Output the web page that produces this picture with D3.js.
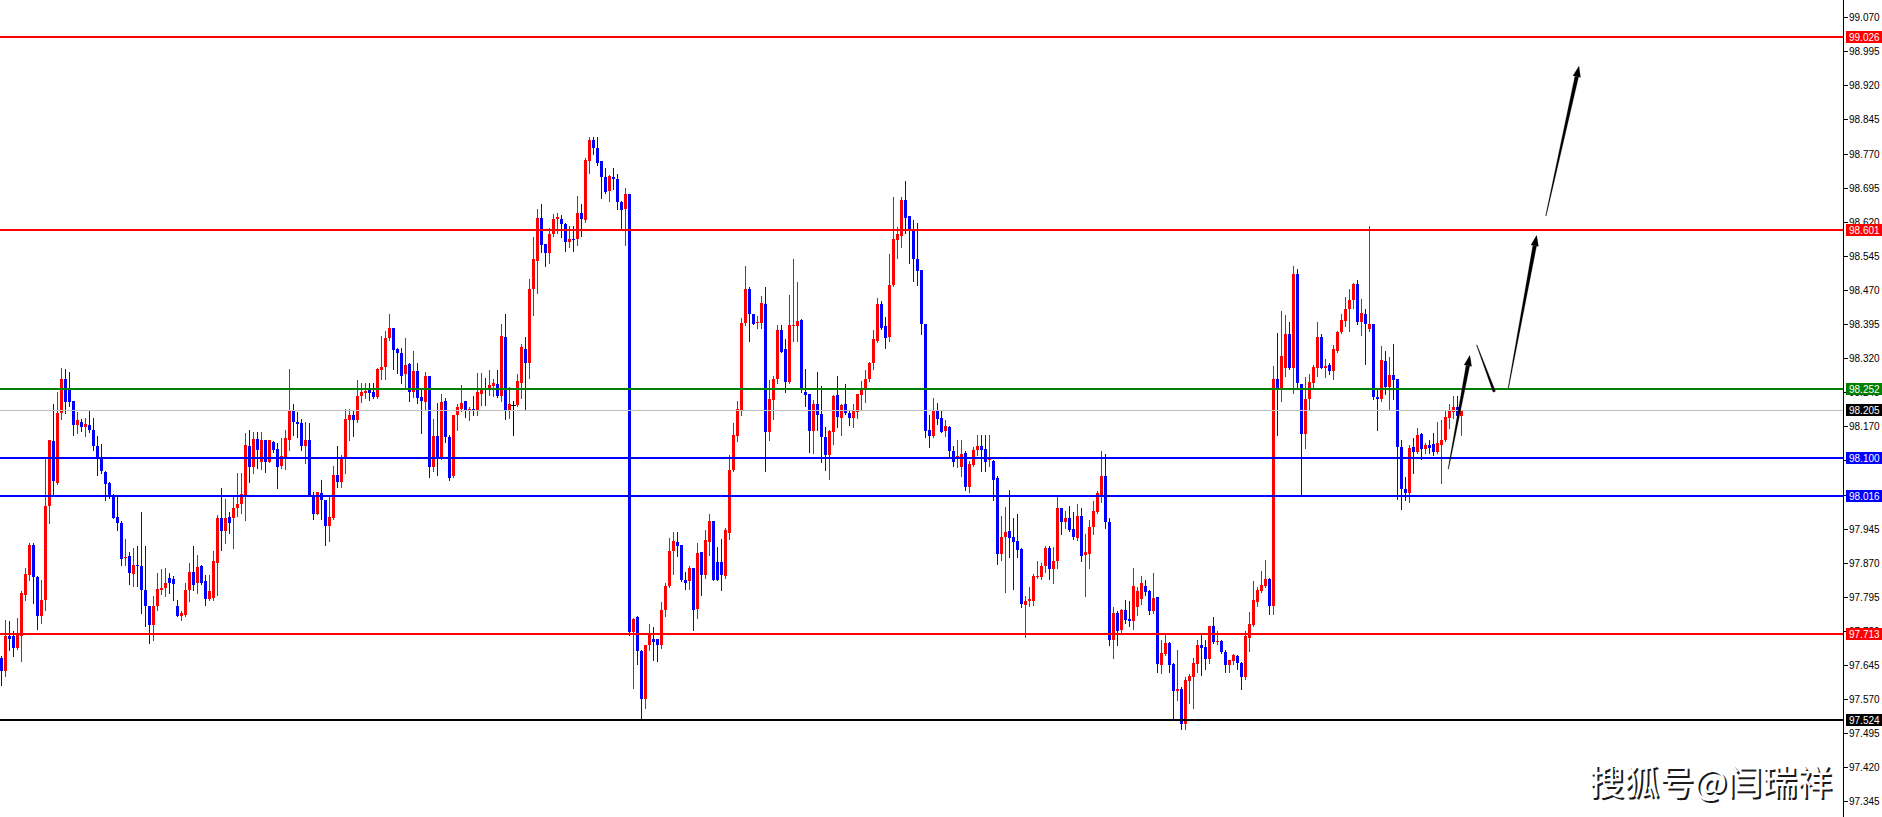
<!DOCTYPE html>
<html>
<head>
<meta charset="utf-8">
<script src="https://cdn.jsdelivr.net/npm/d3@7"></script>
<style>
  html, body { margin: 0; padding: 0; background: #ffffff; overflow: hidden; }
  svg { display: block; }
</style>
</head>
<body>
<script>
// ---------- DATA ----------
const open = [
97.660,97.631,97.708,97.708,97.682,97.709,97.799,97.843,97.909,97.838,
97.753,97.787,97.995,98.138,98.046,98.200,98.274,98.250,98.226,98.173,
98.179,98.169,98.173,98.162,98.127,98.100,98.070,98.046,98.019,97.970,
97.958,97.881,97.885,97.845,97.865,97.863,97.810,97.774,97.733,97.774,
97.809,97.814,97.836,97.834,97.775,97.753,97.755,97.809,97.850,97.825,
97.862,97.829,97.790,97.792,97.870,97.968,97.940,97.970,97.968,97.991,
97.999,98.017,98.127,98.081,98.142,98.092,98.140,98.092,98.136,98.120,
98.083,98.100,98.140,98.204,98.180,98.177,98.127,98.140,98.020,97.977,
98.024,98.007,97.950,97.968,98.062,98.048,98.100,98.184,98.195,98.183,
98.237,98.243,98.250,98.246,98.235,98.293,98.300,98.364,98.386,98.340,
98.332,98.284,98.306,98.246,98.291,98.234,98.224,98.280,98.081,98.148,
98.100,98.225,98.146,98.060,98.194,98.208,98.225,98.204,98.209,98.204,
98.240,98.253,98.251,98.259,98.263,98.236,98.366,98.207,98.217,98.217,
98.266,98.341,98.309,98.471,98.534,98.629,98.570,98.551,98.592,98.625,
98.627,98.614,98.575,98.583,98.581,98.639,98.623,98.753,98.799,98.782,
98.753,98.719,98.687,98.719,98.713,98.663,98.648,98.681,97.717,97.751,
97.675,97.571,97.690,97.703,97.703,97.690,97.767,97.819,97.896,97.915,
97.909,97.833,97.829,97.858,97.768,97.893,97.843,97.915,97.961,97.871,
97.872,97.841,97.936,98.074,98.148,98.207,98.397,98.471,98.418,98.398,
98.398,98.440,98.158,98.228,98.274,98.382,98.339,98.267,98.390,98.390,
98.403,98.246,98.242,98.160,98.218,98.198,98.147,98.108,98.158,98.238,
98.189,98.218,98.200,98.188,98.202,98.238,98.253,98.273,98.309,98.358,
98.440,98.390,98.366,98.480,98.579,98.588,98.668,98.632,98.603,98.539,
98.513,98.394,98.161,98.148,98.207,98.189,98.160,98.169,98.116,98.099,
98.080,98.111,98.037,98.086,98.118,98.126,98.120,98.096,98.094,98.056,
97.889,97.926,97.939,97.926,97.918,97.900,97.778,97.785,97.785,97.839,
97.838,97.862,97.902,97.856,97.873,97.990,97.960,97.968,97.944,97.924,
97.972,97.888,97.890,97.949,97.981,98.019,98.061,97.960,97.699,97.759,
97.723,97.766,97.746,97.742,97.772,97.790,97.818,97.808,97.764,97.795,
97.644,97.670,97.694,97.648,97.588,97.593,97.515,97.609,97.619,97.648,
97.688,97.685,97.658,97.730,97.695,97.697,97.674,97.644,97.654,97.664,
97.650,97.619,97.705,97.732,97.784,97.808,97.819,97.835,97.774,98.273,
98.250,98.299,98.372,98.299,98.505,98.264,98.154,98.229,98.266,98.299,
98.366,98.299,98.304,98.291,98.335,98.377,98.401,98.429,98.447,98.482,
98.399,98.418,98.383,98.394,98.235,98.229,98.313,98.256,98.282,98.275,
98.125,98.033,98.024,98.125,98.114,98.154,98.121,98.129,98.132,98.114,
98.130,98.141,98.189,98.202,98.213,98.192
];
const high = [
97.665,97.744,97.742,97.719,97.748,97.807,97.859,97.914,97.913,97.840,
97.832,98.098,98.140,98.219,98.246,98.298,98.296,98.290,98.226,98.202,
98.187,98.188,98.205,98.188,98.149,98.131,98.072,98.048,98.021,98.019,
97.961,97.922,97.894,97.903,97.906,97.982,97.907,97.774,97.796,97.847,
97.856,97.858,97.847,97.840,97.787,97.763,97.825,97.869,97.907,97.886,
97.866,97.843,97.843,97.896,97.975,98.035,98.010,97.982,98.015,98.067,
98.067,98.156,98.161,98.158,98.158,98.158,98.140,98.140,98.137,98.133,
98.144,98.162,98.296,98.219,98.202,98.186,98.180,98.178,98.026,98.025,
98.052,98.008,98.015,98.083,98.127,98.107,98.209,98.209,98.204,98.272,
98.266,98.266,98.265,98.266,98.299,98.369,98.380,98.417,98.386,98.342,
98.342,98.364,98.310,98.335,98.309,98.249,98.289,98.280,98.187,98.221,
98.240,98.232,98.151,98.194,98.219,98.261,98.225,98.213,98.236,98.288,
98.287,98.276,98.293,98.274,98.293,98.394,98.417,98.257,98.225,98.285,
98.352,98.366,98.495,98.587,98.649,98.660,98.572,98.607,98.637,98.639,
98.635,98.618,98.610,98.610,98.677,98.660,98.761,98.807,98.807,98.807,
98.753,98.738,98.723,98.738,98.726,98.665,98.694,98.681,97.749,97.753,
97.678,97.690,97.736,97.728,97.703,97.784,97.825,97.925,97.938,97.938,
97.909,97.850,97.862,97.858,97.913,97.893,97.942,97.977,97.961,97.904,
97.923,97.946,98.108,98.177,98.225,98.408,98.523,98.476,98.418,98.413,
98.456,98.477,98.271,98.280,98.393,98.392,98.362,98.459,98.537,98.487,
98.407,98.297,98.242,98.227,98.290,98.258,98.169,98.161,98.238,98.280,
98.220,98.264,98.204,98.220,98.242,98.270,98.293,98.312,98.381,98.452,
98.445,98.410,98.548,98.674,98.608,98.674,98.709,98.632,98.623,98.617,
98.513,98.394,98.196,98.233,98.221,98.207,98.183,98.170,98.126,98.139,
98.139,98.115,98.094,98.124,98.150,98.150,98.150,98.150,98.096,98.060,
97.972,97.992,98.030,97.968,97.977,97.902,97.797,97.817,97.845,97.874,
97.869,97.906,97.906,97.905,98.016,97.990,97.984,97.995,97.981,97.999,
97.990,97.933,97.964,98.006,98.028,98.116,98.109,97.968,97.772,97.764,
97.768,97.788,97.785,97.858,97.816,97.840,97.833,97.809,97.847,97.795,
97.699,97.710,97.696,97.650,97.677,97.597,97.619,97.625,97.661,97.701,
97.710,97.701,97.730,97.751,97.719,97.699,97.677,97.657,97.670,97.668,
97.652,97.719,97.762,97.830,97.817,97.851,97.875,97.836,98.303,98.375,
98.423,98.414,98.399,98.522,98.516,98.264,98.279,98.284,98.304,98.399,
98.374,98.317,98.310,98.348,98.379,98.416,98.454,98.472,98.486,98.492,
98.449,98.428,98.610,98.394,98.255,98.346,98.335,98.322,98.352,98.275,
98.141,98.059,98.128,98.145,98.167,98.156,98.134,98.140,98.156,98.180,
98.183,98.207,98.220,98.236,98.236,98.207
];
const low = [
97.600,97.620,97.678,97.664,97.680,97.653,97.787,97.832,97.781,97.724,
97.738,97.765,97.958,98.017,98.043,98.186,98.199,98.215,98.151,98.155,
98.160,98.149,98.158,98.117,98.062,98.067,98.008,98.012,97.968,97.942,
97.865,97.865,97.823,97.818,97.818,97.759,97.730,97.694,97.700,97.766,
97.801,97.797,97.803,97.787,97.752,97.743,97.753,97.785,97.810,97.803,
97.823,97.777,97.788,97.788,97.799,97.898,97.914,97.936,97.903,97.972,
97.979,97.963,98.048,98.068,98.078,98.076,98.070,98.092,98.114,98.035,
98.078,98.076,98.118,98.150,98.147,98.117,98.090,98.018,97.966,97.977,
97.966,97.909,97.917,97.966,98.037,98.037,98.068,98.140,98.149,98.180,
98.224,98.232,98.228,98.232,98.232,98.274,98.274,98.360,98.296,98.288,
98.266,98.256,98.225,98.235,98.222,98.155,98.209,98.059,98.072,98.064,
98.098,98.135,98.053,98.058,98.161,98.203,98.190,98.183,98.196,98.194,
98.217,98.217,98.239,98.236,98.235,98.225,98.186,98.188,98.152,98.215,
98.232,98.208,98.276,98.415,98.463,98.553,98.522,98.530,98.589,98.595,
98.587,98.555,98.564,98.555,98.568,98.589,98.620,98.728,98.770,98.744,
98.673,98.683,98.665,98.692,98.649,98.606,98.568,97.711,97.594,97.648,
97.524,97.550,97.678,97.657,97.654,97.682,97.753,97.816,97.846,97.885,
97.829,97.812,97.812,97.722,97.749,97.798,97.837,97.888,97.833,97.833,
97.810,97.836,97.923,98.072,98.138,98.194,98.392,98.358,98.396,98.387,
98.387,98.072,98.141,98.186,98.266,98.333,98.245,98.265,98.358,98.358,
98.246,98.214,98.114,98.111,98.161,98.092,98.075,98.055,98.132,98.169,
98.152,98.198,98.172,98.169,98.188,98.209,98.224,98.269,98.295,98.355,
98.385,98.342,98.357,98.478,98.540,98.564,98.595,98.529,98.490,98.480,
98.374,98.147,98.125,98.147,98.176,98.158,98.148,98.104,98.082,98.081,
98.060,98.030,98.025,98.083,98.108,98.072,98.071,98.082,98.009,97.867,
97.877,97.806,97.883,97.812,97.882,97.772,97.707,97.775,97.778,97.836,
97.834,97.850,97.834,97.825,97.858,97.933,97.946,97.940,97.922,97.920,
97.874,97.797,97.858,97.933,97.979,98.004,97.946,97.688,97.660,97.688,
97.713,97.737,97.730,97.724,97.754,97.780,97.798,97.758,97.760,97.630,
97.628,97.666,97.630,97.523,97.567,97.505,97.504,97.562,97.551,97.630,
97.622,97.637,97.650,97.694,97.691,97.672,97.630,97.630,97.648,97.637,
97.593,97.614,97.675,97.731,97.775,97.806,97.817,97.758,97.758,98.152,
98.225,98.280,98.295,98.244,98.255,98.020,98.123,98.209,98.251,98.280,
98.299,98.279,98.284,98.275,98.333,98.376,98.390,98.379,98.431,98.396,
98.370,98.308,98.379,98.231,98.162,98.225,98.240,98.207,98.229,98.011,
97.989,98.008,98.003,98.068,98.112,98.099,98.112,98.112,98.108,98.112,
98.046,98.137,98.167,98.189,98.185,98.151
];
const close = [
97.631,97.708,97.703,97.682,97.711,97.803,97.845,97.909,97.838,97.752,
97.788,97.995,98.140,98.050,98.200,98.274,98.224,98.224,98.173,98.183,
98.169,98.175,98.161,98.127,98.100,98.071,98.043,98.016,97.969,97.958,
97.878,97.883,97.848,97.865,97.862,97.810,97.774,97.733,97.774,97.812,
97.815,97.825,97.825,97.823,97.753,97.759,97.810,97.850,97.821,97.860,
97.825,97.790,97.808,97.874,97.969,97.940,97.969,97.958,97.991,97.999,
98.021,98.129,98.081,98.142,98.117,98.140,98.092,98.140,98.117,98.081,
98.104,98.145,98.204,98.180,98.175,98.127,98.140,98.019,97.977,98.025,
98.007,97.950,97.970,98.062,98.048,98.100,98.187,98.195,98.183,98.237,
98.245,98.248,98.243,98.235,98.296,98.301,98.364,98.386,98.337,98.331,
98.280,98.305,98.246,98.291,98.232,98.225,98.280,98.081,98.148,98.100,
98.224,98.146,98.056,98.194,98.213,98.222,98.204,98.209,98.203,98.245,
98.253,98.249,98.261,98.265,98.236,98.368,98.207,98.219,98.217,98.270,
98.344,98.309,98.471,98.537,98.629,98.568,98.551,98.593,98.627,98.631,
98.614,98.576,98.582,98.579,98.639,98.625,98.755,98.799,98.782,98.750,
98.719,98.686,98.721,98.713,98.663,98.645,98.681,97.717,97.747,97.675,
97.571,97.690,97.711,97.695,97.690,97.767,97.819,97.896,97.917,97.907,
97.831,97.826,97.858,97.766,97.892,97.843,97.919,97.961,97.833,97.833,
97.843,97.941,98.074,98.150,98.208,98.397,98.473,98.417,98.396,98.400,
98.442,98.158,98.229,98.274,98.382,98.334,98.267,98.392,98.393,98.402,
98.249,98.238,98.160,98.218,98.194,98.147,98.108,98.159,98.236,98.191,
98.216,98.200,98.188,98.203,98.240,98.253,98.275,98.310,98.361,98.438,
98.386,98.364,98.480,98.583,98.592,98.668,98.629,98.601,98.537,98.512,
98.394,98.160,98.148,98.205,98.187,98.158,98.171,98.116,98.092,98.104,
98.109,98.037,98.087,98.118,98.126,98.119,98.092,98.100,98.053,97.889,
97.926,97.937,97.924,97.916,97.899,97.779,97.785,97.790,97.841,97.841,
97.863,97.902,97.856,97.874,97.990,97.960,97.968,97.943,97.926,97.973,
97.885,97.894,97.949,97.984,98.023,98.061,97.959,97.699,97.759,97.720,
97.765,97.744,97.742,97.819,97.807,97.826,97.806,97.764,97.793,97.647,
97.672,97.694,97.644,97.588,97.592,97.515,97.613,97.620,97.650,97.688,
97.683,97.658,97.730,97.696,97.697,97.674,97.644,97.655,97.666,97.650,
97.619,97.708,97.735,97.787,97.809,97.820,97.835,97.774,98.273,98.249,
98.324,98.374,98.299,98.505,98.266,98.154,98.229,98.268,98.300,98.366,
98.299,98.302,98.291,98.339,98.377,98.403,98.429,98.447,98.482,98.399,
98.420,98.394,98.394,98.235,98.229,98.315,98.256,98.282,98.272,98.124,
98.033,98.024,98.123,98.114,98.152,98.121,98.129,98.123,98.114,98.134,
98.141,98.191,98.204,98.213,98.192,98.205
];

const tickValues = [99.070,98.995,98.920,98.845,98.770,98.695,98.620,98.545,98.470,98.395,
  98.320,98.245,98.170,98.095,98.020,97.945,97.870,97.795,97.720,97.645,97.570,97.495,97.420,97.345];

const levelValues = [99.026, 98.601, 98.252, 98.205, 98.100, 98.016, 97.713, 97.524];
const levelKinds  = ["res", "res", "pivot", "bid", "sup", "sup", "res", "low"];

// hand-drawn arrows, in data units (candle index, price)
const arrowFromIdx   = [361.9, 369.0, 376.9, 386.3];
const arrowFromPrice = [98.076, 98.349, 98.254, 98.633];
const arrowToIdx     = [367.3, 373.4, 384.0, 394.6];
const arrowToPrice   = [98.327, 98.246, 98.591, 98.963];
const arrowHasHead   = [true, false, true, true];

const watermark = "搜狐号@闫瑞祥";

// ---------- STYLE ----------
const W = 1882, H = 817;
const AXIS_X = 1843.5;
const kindColor = { res: "#ff0000", pivot: "#008000", bid: "#c0c0c0", sup: "#0000ff", low: "#000000" };
const boxColor  = { res: "#ff0000", pivot: "#008000", bid: "#000000", sup: "#0000ff", low: "#000000" };
const UP = "#ff0000", DOWN = "#0000ff", DOJI = "#000000";

const svg = d3.select("body").append("svg").attr("width", W).attr("height", H);
svg.append("rect").attr("width", W).attr("height", H).attr("fill", "#ffffff");

const y = d3.scaleLinear().domain([97.3106, 99.1078]).range([H, 0]);
const x = d3.scaleLinear().domain([0, 365]).range([0.7, 1460.7]);

const candles = d3.range(open.length).map(i => ({ i, o: open[i], h: high[i], l: low[i], c: close[i] }));
const col = d => d.c > d.o ? UP : (d.c < d.o ? DOWN : DOJI);

const gC = svg.append("g").attr("shape-rendering", "crispEdges");
gC.selectAll("rect.wick").data(candles).join("rect")
  .attr("class", "wick")
  .attr("x", d => Math.round(x(d.i)))
  .attr("width", 1)
  .attr("y", d => Math.round(y(d.h)))
  .attr("height", d => Math.max(1, Math.round(y(d.l)) - Math.round(y(d.h)) + 1))
  .attr("fill", col);
gC.selectAll("rect.body").data(candles).join("rect")
  .attr("class", "body")
  .attr("x", d => Math.round(x(d.i)) - 1)
  .attr("width", 3)
  .attr("y", d => Math.round(y(Math.max(d.o, d.c))))
  .attr("height", d => Math.max(1, Math.round(y(Math.min(d.o, d.c))) - Math.round(y(Math.max(d.o, d.c)))))
  .attr("fill", col);
gC.selectAll("rect.doji").data(candles.filter(d => d.o === d.c)).join("rect")
  .attr("x", d => Math.round(x(d.i)) - 2).attr("width", 5)
  .attr("y", d => Math.round(y(d.o))).attr("height", 1).attr("fill", DOJI);

// level lines
const gL = svg.append("g").attr("shape-rendering", "crispEdges");
levelValues.forEach((v, k) => {
  const kind = levelKinds[k];
  const yy = Math.round(y(v));
  gL.append("line")
    .attr("x1", 0).attr("x2", AXIS_X)
    .attr("y1", kind === "bid" ? yy + 0.5 : yy).attr("y2", kind === "bid" ? yy + 0.5 : yy)
    .attr("stroke", kindColor[kind])
    .attr("stroke-width", kind === "bid" ? 1 : 2);
});

// arrows (tapered strokes)
const gA = svg.append("g");
arrowFromIdx.forEach((_, k) => {
  const x0 = x(arrowFromIdx[k]), y0 = y(arrowFromPrice[k]);
  const x1 = x(arrowToIdx[k]), y1 = y(arrowToPrice[k]);
  const dx = x1 - x0, dy = y1 - y0, len = Math.hypot(dx, dy);
  const ux = dx / len, uy = dy / len, nx = -uy, ny = ux;
  const head = arrowHasHead[k];
  const headLen = head ? 11 : 0;
  const bx = x1 - ux * headLen, by = y1 - uy * headLen;
  const w0 = 0.3, w1 = head ? 1.9 : 1.3;
  const pts = [
    [x0 + nx * w0, y0 + ny * w0], [bx + nx * w1, by + ny * w1],
    [bx - nx * w1, by - ny * w1], [x0 - nx * w0, y0 - ny * w0]
  ];
  gA.append("polygon").attr("points", pts.map(p => p.join(",")).join(" "))
    .attr("fill", "#000").attr("stroke", "#000").attr("stroke-width", 0.4).attr("stroke-opacity", 0.5);
  if (head) {
    const hw = 4;
    const hp = [[x1, y1], [bx + nx * hw, by + ny * hw], [bx - nx * hw, by - ny * hw]];
    gA.append("polygon").attr("points", hp.map(p => p.join(",")).join(" ")).attr("fill", "#000");
  }
});

// price axis
const gY = svg.append("g").attr("font-family", "'Liberation Sans', Arial, sans-serif").attr("font-size", "10px");
gY.append("line").attr("x1", AXIS_X).attr("x2", AXIS_X).attr("y1", 0).attr("y2", H)
  .attr("stroke", "#000").attr("stroke-width", 1).attr("shape-rendering", "crispEdges");
tickValues.forEach(v => {
  const yy = Math.round(y(v)) + 0.5;
  gY.append("line").attr("x1", AXIS_X).attr("x2", AXIS_X + 4).attr("y1", yy).attr("y2", yy)
    .attr("stroke", "#000").attr("shape-rendering", "crispEdges");
  gY.append("text").attr("x", 1849).attr("y", yy + 3.5).attr("fill", "#000").text(d3.format(".3f")(v));
});
levelValues.forEach((v, k) => {
  const kind = levelKinds[k];
  const yy = Math.round(y(v));
  gY.append("rect").attr("x", AXIS_X + 2).attr("y", yy - 6).attr("width", W - AXIS_X - 2).attr("height", 12)
    .attr("fill", boxColor[kind]).attr("shape-rendering", "crispEdges");
  gY.append("text").attr("x", 1849).attr("y", yy + 4).attr("fill", "#fff").text(d3.format(".3f")(v));
});

// watermark
const gW = svg.append("g").attr("font-family", "'Noto Sans CJK SC', sans-serif").attr("font-size", "35px")
  .attr("text-anchor", "end");
gW.append("text").attr("x", 1834).attr("y", 797).attr("fill", "#1a1a1a").text(watermark);
gW.append("text").attr("x", 1832).attr("y", 795).attr("fill", "#fff").text(watermark);
</script>
</body>
</html>
